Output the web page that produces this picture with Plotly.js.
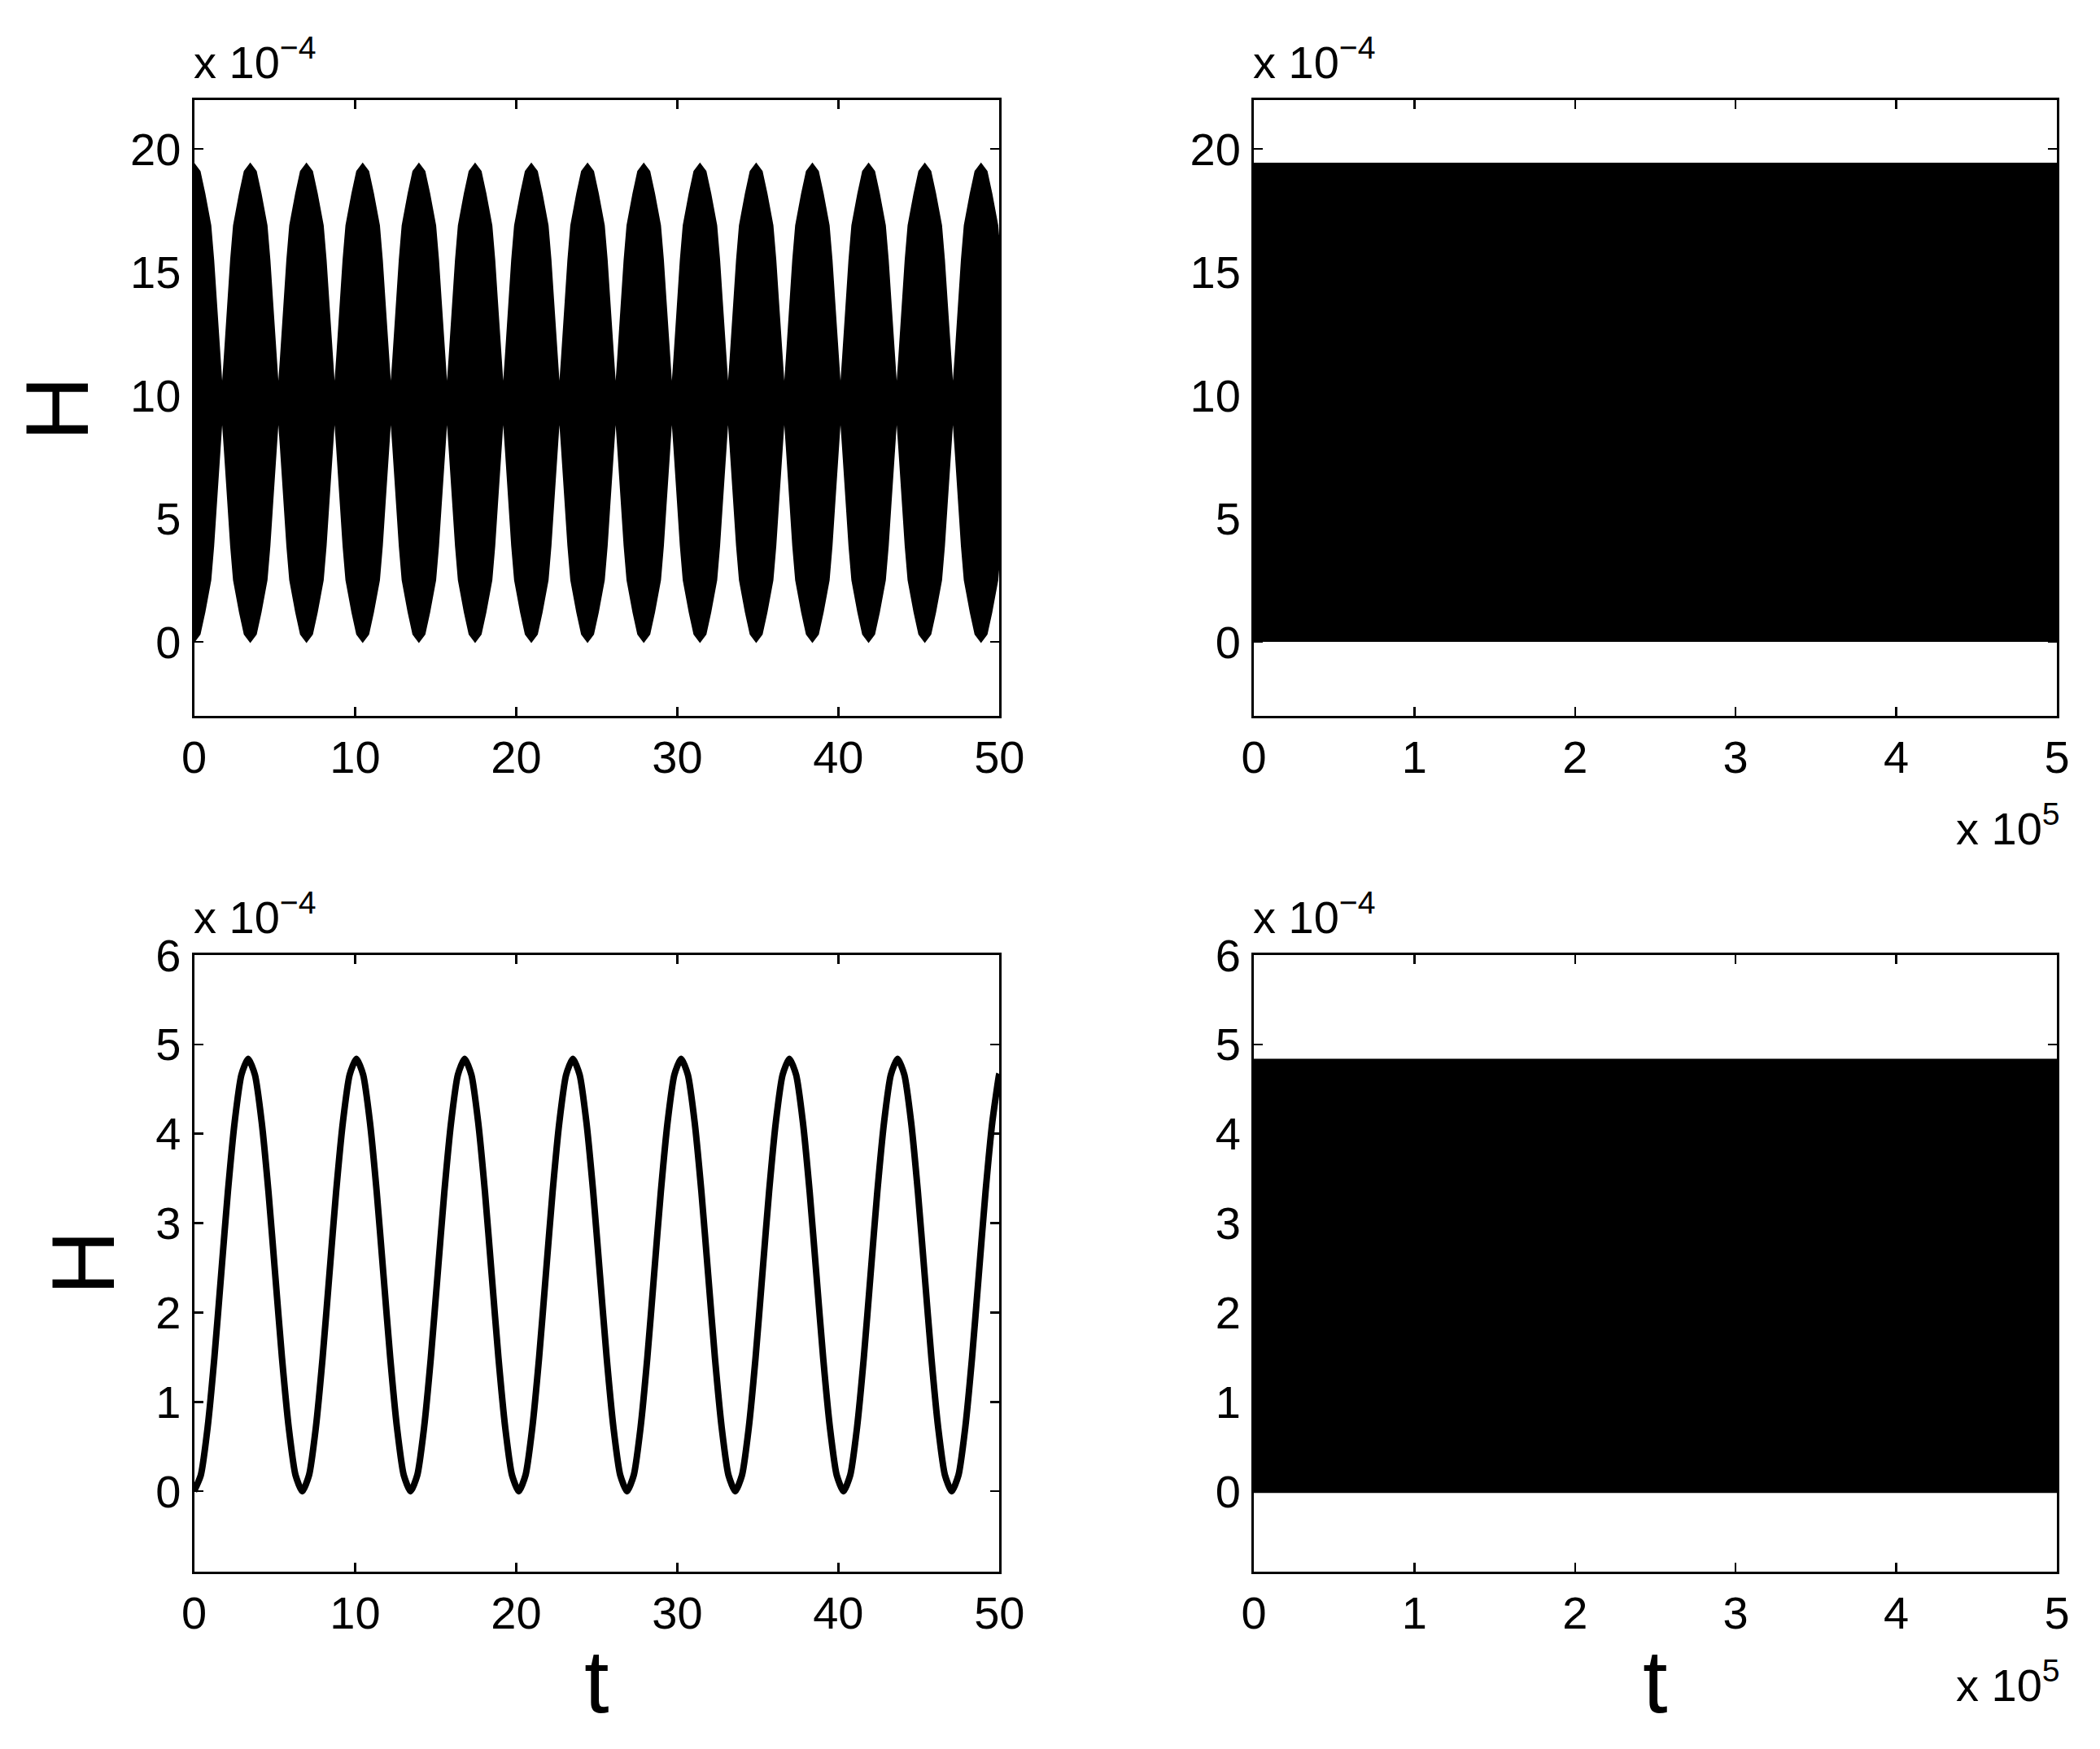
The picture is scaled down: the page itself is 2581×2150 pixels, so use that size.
<!DOCTYPE html>
<html>
<head>
<meta charset="utf-8">
<script src="https://cdn.plot.ly/plotly-3.0.1.min.js"></script>
<style>
html,body{margin:0;padding:0;background:#fff;}
#chart{width:2581px;height:2150px;}
</style>
</head>
<body>
<div id="chart"></div>
<script>
// ---------- Data (H values in units of 1e-4, as labelled "x 10^-4") ----------
// Top-left panel: fast oscillation, drawn as the black band between an upper and lower envelope.
// Lobe centres (t)
const tlLobeCentres = [0, 3.49, 6.98, 10.47, 13.96, 17.45, 20.94, 24.43, 27.92, 31.41, 34.90, 38.39, 41.88, 45.37, 48.86];
// One lobe profile: offset from centre, upper edge, lower edge
const tlLobeOffset = [-1.745, -1.65, -1.55, -1.41, -1.25, -1.07, -0.7, -0.4, 0, 0.4, 0.7, 1.07, 1.25, 1.41, 1.55, 1.65, 1.745];
const tlLobeUpper  = [10.6, 11.5, 12.5, 13.9, 15.5, 16.9, 18.2, 19.1, 19.45, 19.1, 18.2, 16.9, 15.5, 13.9, 12.5, 11.5, 10.6];
const tlLobeLower  = [8.8, 7.9, 6.9, 5.5, 3.9, 2.5, 1.2, 0.3, -0.05, 0.3, 1.2, 2.5, 3.9, 5.5, 6.9, 7.9, 8.8];

// Top-right panel: band fills the whole span 0 .. 5e5
const trT     = [0, 500000];
const trUpper = [19.44, 19.44];
const trLower = [0, 0];

// Bottom-left panel: smooth oscillation
const blT = [
  0, 0.42, 0.84, 1.26, 1.68, 2.1, 2.52, 2.94, 3.36, 3.78, 4.2, 4.62, 5.04, 5.46, 5.88, 6.3,
  6.72, 7.14, 7.56, 7.98, 8.4, 8.82, 9.24, 9.66, 10.08, 10.5, 10.92, 11.34, 11.76, 12.18, 12.6, 13.02,
  13.44, 13.86, 14.28, 14.7, 15.12, 15.54, 15.96, 16.38, 16.8, 17.22, 17.64, 18.06, 18.48, 18.9, 19.32, 19.74,
  20.16, 20.58, 21.0, 21.42, 21.84, 22.26, 22.68, 23.1, 23.52, 23.94, 24.36, 24.78, 25.2, 25.62, 26.04, 26.46,
  26.88, 27.3, 27.72, 28.14, 28.56, 28.98, 29.4, 29.82, 30.24, 30.66, 31.08, 31.5, 31.92, 32.34, 32.76, 33.18,
  33.6, 34.02, 34.44, 34.86, 35.28, 35.7, 36.12, 36.54, 36.96, 37.38, 37.8, 38.22, 38.64, 39.06, 39.48, 39.9,
  40.32, 40.74, 41.16, 41.58, 42.0, 42.42, 42.84, 43.26, 43.68, 44.1, 44.52, 44.94, 45.36, 45.78, 46.2, 46.62,
  47.04, 47.46, 47.88, 48.3, 48.72, 49.14, 49.56, 49.98, 50];
const blH = [
  0, 0.18, 0.71, 1.49, 2.42, 3.35, 4.13, 4.66, 4.84, 4.66, 4.13, 3.35, 2.42, 1.49, 0.71, 0.18,
  0, 0.18, 0.71, 1.49, 2.42, 3.35, 4.13, 4.66, 4.84, 4.66, 4.13, 3.35, 2.42, 1.49, 0.71, 0.18,
  0, 0.18, 0.71, 1.49, 2.42, 3.35, 4.13, 4.66, 4.84, 4.66, 4.13, 3.35, 2.42, 1.49, 0.71, 0.18,
  0, 0.18, 0.71, 1.49, 2.42, 3.35, 4.13, 4.66, 4.84, 4.66, 4.13, 3.35, 2.42, 1.49, 0.71, 0.18,
  0, 0.18, 0.71, 1.49, 2.42, 3.35, 4.13, 4.66, 4.84, 4.66, 4.13, 3.35, 2.42, 1.49, 0.71, 0.18,
  0, 0.18, 0.71, 1.49, 2.42, 3.35, 4.13, 4.66, 4.84, 4.66, 4.13, 3.35, 2.42, 1.49, 0.71, 0.18,
  0, 0.18, 0.71, 1.49, 2.42, 3.35, 4.13, 4.66, 4.84, 4.66, 4.13, 3.35, 2.42, 1.49, 0.71, 0.18,
  0, 0.18, 0.71, 1.49, 2.42, 3.35, 4.13, 4.66, 4.67];

// Bottom-right panel: band fills the whole span 0 .. 5e5
const brT     = [0, 500000];
const brUpper = [4.84, 4.84];
const brLower = [-0.02, -0.02];

// Tick labels
const leftXTicks  = [0, 10, 20, 30, 40, 50];
const rightXTicks = [0, 100000, 200000, 300000, 400000, 500000];
const rightXText  = ['0', '1', '2', '3', '4', '5'];
const topYTicks   = [0, 5, 10, 15, 20];
const botYTicks   = [0, 1, 2, 3, 4, 5, 6];

// ---------- Build the top-left envelope table from the read lobe profile ----------
const tlT = [], tlUp = [], tlLo = [];
tlLobeCentres.forEach(function (c) {
  tlLobeOffset.forEach(function (d, i) {
    tlT.push(c + d);
    tlUp.push(tlLobeUpper[i]);
    tlLo.push(tlLobeLower[i]);
  });
});

const FONT = 'Liberation Sans, Arial, Helvetica, sans-serif';

function axis(domain, range, tickvals, ticktext, anchor, standoff) {
  const a = {
    domain: domain, range: range, anchor: anchor,
    tickmode: 'array', tickvals: tickvals,
    showline: true, linecolor: '#000', linewidth: 3, mirror: 'allticks',
    ticks: 'inside', ticklen: 11, tickwidth: 2.5, tickcolor: '#000',
    showgrid: false, zeroline: false, fixedrange: true,
    tickfont: {family: FONT, size: 56, color: '#000'},
    ticklabelstandoff: standoff
  };
  if (ticktext) a.ticktext = ticktext;
  return a;
}

const band = {width: 0, color: '#000'};
const traces = [
  {x: tlT, y: tlLo, xaxis: 'x', yaxis: 'y', mode: 'lines', line: band, hoverinfo: 'skip'},
  {x: tlT, y: tlUp, xaxis: 'x', yaxis: 'y', mode: 'lines', line: band, fill: 'tonexty', fillcolor: '#000', hoverinfo: 'skip'},
  {x: trT, y: trLower, xaxis: 'x2', yaxis: 'y2', mode: 'lines', line: band, hoverinfo: 'skip'},
  {x: trT, y: trUpper, xaxis: 'x2', yaxis: 'y2', mode: 'lines', line: band, fill: 'tonexty', fillcolor: '#000', hoverinfo: 'skip'},
  {x: blT, y: blH, xaxis: 'x3', yaxis: 'y3', mode: 'lines', line: {width: 8, color: '#000', shape: 'spline', smoothing: 0.6}, hoverinfo: 'skip'},
  {x: brT, y: brLower, xaxis: 'x4', yaxis: 'y4', mode: 'lines', line: band, hoverinfo: 'skip'},
  {x: brT, y: brUpper, xaxis: 'x4', yaxis: 'y4', mode: 'lines', line: band, fill: 'tonexty', fillcolor: '#000', hoverinfo: 'skip'}
];

const W = 2581, Hh = 2150;
const px = function (v) { return v / W; };
const py = function (v) { return 1 - v / Hh; };

const colL = [px(238.5), px(1228.3)];
const colR = [px(1541), px(2528)];
const rowT = [py(880), py(122.5)];
const rowB = [py(1932), py(1174)];

function ann(text, x, y, xanchor, yanchor, size, angle) {
  return {text: text, x: x, y: y, xref: 'paper', yref: 'paper', xanchor: xanchor, yanchor: yanchor,
    showarrow: false, textangle: angle || 0, font: {family: FONT, size: size, color: '#000'}};
}

const layout = {
  width: W, height: Hh,
  margin: {l: 0, r: 0, t: 0, b: 0},
  paper_bgcolor: '#fff', plot_bgcolor: '#fff',
  showlegend: false,
  xaxis:  axis(colL, [0, 50], leftXTicks, null, 'y', 0),
  yaxis:  axis(rowT, [-3, 22], topYTicks, null, 'x', 2),
  xaxis2: axis(colR, [0, 500000], rightXTicks, rightXText, 'y2', 0),
  yaxis2: axis(rowT, [-3, 22], topYTicks, null, 'x2', 2),
  xaxis3: axis(colL, [0, 50], leftXTicks, null, 'y3', 0),
  yaxis3: axis(rowB, [-0.9, 6], botYTicks, null, 'x3', 2),
  xaxis4: axis(colR, [0, 500000], rightXTicks, rightXText, 'y4', 0),
  yaxis4: axis(rowB, [-0.9, 6], botYTicks, null, 'x4', 2),
  annotations: [
    ann('x 10<sup>\u22124</sup>', px(236), py(110), 'left', 'bottom', 56),
    ann('x 10<sup>\u22124</sup>', px(1538), py(110), 'left', 'bottom', 56),
    ann('x 10<sup>\u22124</sup>', px(236), py(1161), 'left', 'bottom', 56),
    ann('x 10<sup>\u22124</sup>', px(1538), py(1161), 'left', 'bottom', 56),
    ann('x 10<sup>5</sup>', px(2534), py(1052), 'right', 'bottom', 56),
    ann('x 10<sup>5</sup>', px(2534), py(2105), 'right', 'bottom', 56),
    ann('H', px(69), py(503), 'center', 'middle', 110, -90),
    ann('H', px(101), py(1553), 'center', 'middle', 110, -90),
    ann('t', px(733.4), py(2066), 'center', 'middle', 110),
    ann('t', px(2034.5), py(2066), 'center', 'middle', 110)
  ]
};

Plotly.newPlot('chart', traces, layout, {staticPlot: true, displayModeBar: false});
</script>
</body>
</html>
